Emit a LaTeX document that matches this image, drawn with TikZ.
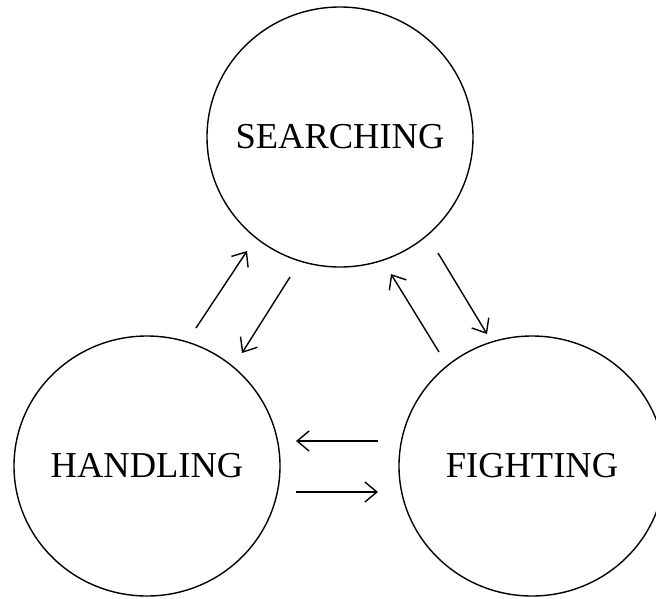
\documentclass[tikz,border=0pt]{standalone}
\usepackage{fontspec}
\setmainfont{Liberation Serif}
\usetikzlibrary{shapes.geometric,arrows.meta}
\begin{document}
\begin{tikzpicture}[x=1pt,y=-1pt,
  state/.style={ellipse, draw, line width=1.4pt, minimum width=266pt,
    minimum height=260pt, inner sep=0pt, font=\fontsize{36.5}{40}\selectfont},
  flow/.style={line width=1.4pt,
    -{Straight Barb[length=12pt,width=20pt,line width=1.4pt]}}]
\useasboundingbox (0,0) rectangle (656,598);
\clip (0,0) rectangle (656,598);

% the three states (labels set in zero-width boxes so the outline keeps its size)
\node[state] (S) at (340,137) {\makebox[0pt]{SEARCHING}};
\node[state] (H) at (147,466) {\makebox[0pt]{HANDLING}};
\node[state] (F) at (532,466) {\makebox[0pt]{FIGHTING}};

% end points of the transitions
\coordinate (hs0) at (196,328); \coordinate (hs1) at (247,251);
\coordinate (sh0) at (290,277); \coordinate (sh1) at (242,353);
\coordinate (fs0) at (439,352); \coordinate (fs1) at (391,274);
\coordinate (sf0) at (438,253); \coordinate (sf1) at (487,334);
\coordinate (fh0) at (378,441); \coordinate (fh1) at (296,441);
\coordinate (hf0) at (296,492); \coordinate (hf1) at (378,492);

% transitions
\draw[flow] (hs0) -- (hs1);
\draw[flow] (sh0) -- (sh1);
\draw[flow] (fs0) -- (fs1);
\draw[flow] (sf0) -- (sf1);
\draw[flow] (fh0) -- (fh1);
\draw[flow] (hf0) -- (hf1);
\end{tikzpicture}
\end{document}
